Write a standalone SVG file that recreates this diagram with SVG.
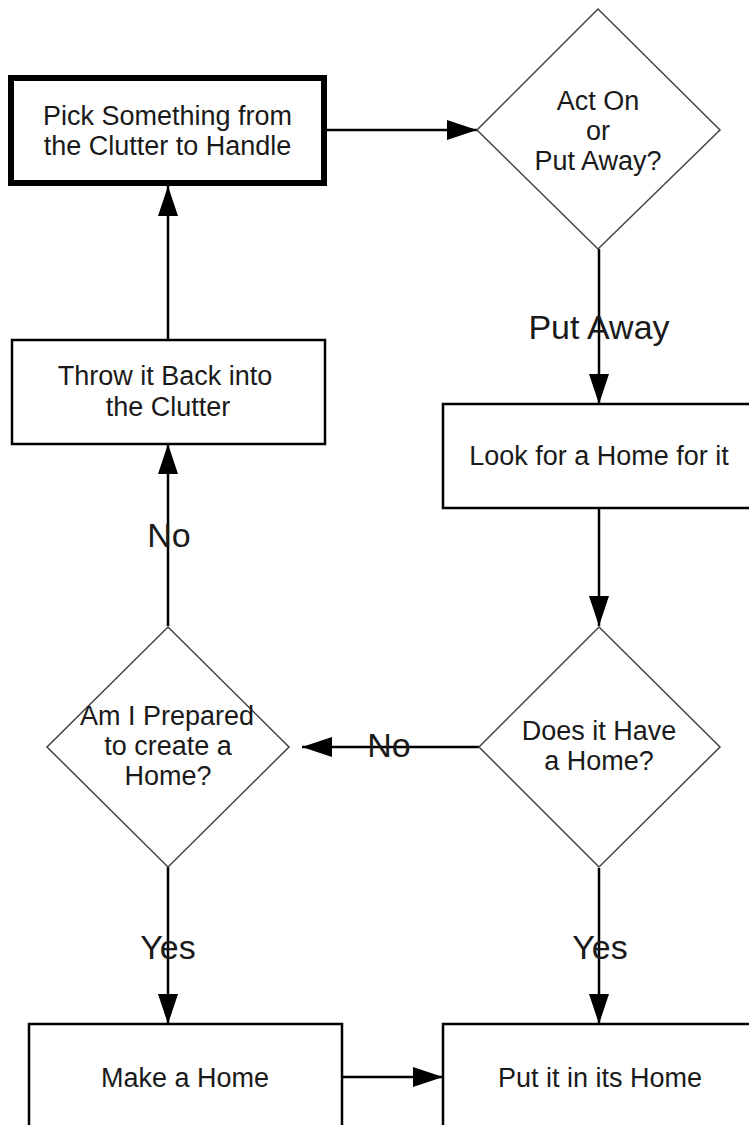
<svg xmlns="http://www.w3.org/2000/svg" width="749" height="1125" viewBox="0 0 749 1125">
<style>
.box{fill:#fff;stroke:#000;stroke-width:2.5}
.thick{stroke-width:6}
.dia{fill:#fff;stroke:#444;stroke-width:1.5}
.t{font-family:"Liberation Sans",Arial,sans-serif;font-size:27px;fill:#1a1a1a;text-anchor:middle}
.lbl{font-family:"Liberation Sans",Arial,sans-serif;font-size:34px;fill:#1a1a1a;text-anchor:middle}
.c{stroke:#000;stroke-width:2.5;fill:none;marker-end:url(#ah)}
</style>
<defs>
<marker id="ah" markerUnits="userSpaceOnUse" markerWidth="30" markerHeight="20" refX="30" refY="10" orient="auto">
<path d="M0,0 L30,10 L0,20 z" fill="#000"/>
</marker>
</defs>
<rect width="749" height="1125" fill="#fff"/>
<g id="connectors">
<line class="c" x1="327" y1="130" x2="477" y2="130"/>
<line class="c" x1="599" y1="249" x2="599" y2="404"/>
<line class="c" x1="599" y1="508" x2="599" y2="626"/>
<line class="c" x1="479" y1="747" x2="302" y2="747"/>
<line class="c" x1="168" y1="626" x2="168" y2="444"/>
<line class="c" x1="168" y1="340" x2="168" y2="186"/>
<line class="c" x1="168" y1="867" x2="168" y2="1024"/>
<line class="c" x1="599" y1="868" x2="599" y2="1024"/>
<line class="c" x1="342" y1="1077" x2="443" y2="1077"/>
<text class="lbl" x="599" y="339">Put Away</text>
<text class="lbl" x="389" y="757">No</text>
<text class="lbl" x="169" y="547">No</text>
<text class="lbl" x="168" y="959">Yes</text>
<text class="lbl" x="600" y="959">Yes</text>
</g>
<g id="pick">
<rect class="box thick" x="11" y="78" width="313" height="105"/>
<text class="t" x="167.5" y="125">Pick Something from</text>
<text class="t" x="167.5" y="155">the Clutter to Handle</text>
</g>
<g id="actOn">
<polygon class="dia" points="598,9 720,130 598,249 477,130"/>
<text class="t" x="598" y="110">Act On</text>
<text class="t" x="598" y="140">or</text>
<text class="t" x="598" y="170">Put Away?</text>
</g>
<g id="look">
<rect class="box" x="443" y="404" width="313" height="104"/>
<text class="t" x="599" y="465">Look for a Home for it</text>
</g>
<g id="throw">
<rect class="box" x="12" y="340" width="313" height="104"/>
<text class="t" x="165" y="385">Throw it Back into</text>
<text class="t" x="168" y="416">the Clutter</text>
</g>
<g id="doesHave">
<polygon class="dia" points="599,627 720,747 599,867 479,747"/>
<text class="t" x="599" y="740">Does it Have</text>
<text class="t" x="599" y="770">a Home?</text>
</g>
<g id="prepared">
<polygon class="dia" points="168,627 289,747 168,867 47,747"/>
<text class="t" x="167" y="725" textLength="174" lengthAdjust="spacingAndGlyphs">Am I Prepared</text>
<text class="t" x="168" y="755">to create a</text>
<text class="t" x="168" y="785">Home?</text>
</g>
<g id="make">
<rect class="box" x="29" y="1024" width="313" height="104"/>
<text class="t" x="185" y="1087">Make a Home</text>
</g>
<g id="put">
<rect class="box" x="443" y="1024" width="313" height="104"/>
<text class="t" x="600" y="1087">Put it in its Home</text>
</g>
</svg>
